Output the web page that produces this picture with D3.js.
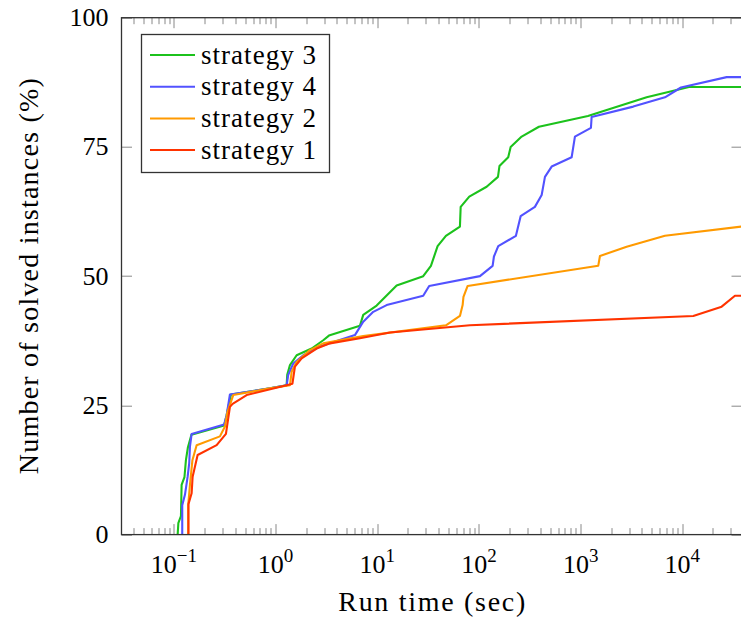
<!DOCTYPE html>
<html>
<head>
<meta charset="utf-8">
<script src="https://cdn.jsdelivr.net/npm/d3@7"></script>
<style>
  body { margin: 0; background: #fff; }
  svg { display: block; }
</style>
</head>
<body>
<div class="chart"></div>
<script>
// run time (sec) / solved instances (%)
var strategy3 = [[0.1088,0],[0.1105,2.2],[0.1172,3.6],[0.1190,9.6],[0.1269,11.1],[0.1312,14.4],
  [0.1373,16.9],[0.1486,19.3],[0.3117,21.1],[0.3298,23.1],[0.3636,27.1],[0.8795,28.3],[1.284,28.9],
  [1.301,30.9],[1.384,32.8],[1.61,34.7],[2.262,36.0],[2.942,37.6],[3.346,38.5],[6.751,40.4],
  [7.275,42.5],[9.856,44.3],[15.5,48.2],[28.3,50.0],[33.7,52.0],[39.2,55.8],[47.3,57.8],[65.0,59.6],
  [66.1,63.4],[80.3,65.4],[119,67.3],[153.8,69.2],[159.1,71.3],[194.1,73.0],[205,75.0],[263,77.0],
  [389,78.9],[1180,81.0],[4460,84.6],[11630,86.6],[38650,86.6]];

var strategy4 = [[0.1207,0],[0.1207,5.7],[0.1283,7.7],[0.1364,11.2],[0.1414,13.85],[0.1437,17.0],
  [0.1493,19.46],[0.3117,21.3],[0.3298,23.1],[0.3554,27.1],[0.8795,28.3],[1.284,28.9],[1.331,30.9],
  [1.491,33.1],[1.87,34.7],[2.729,36.4],[6.03,38.6],[7.275,41.2],[9.13,43.1],[12.36,44.4],[28.3,46.2],
  [32.4,48.1],[102.3,50.0],[136.3,52.0],[140.4,53.8],[154.8,55.8],[231,57.8],[257,61.6],[355,63.4],
  [413.8,65.7],[445.8,69.2],[518.8,71.2],[816,73.0],[879,77.0],[1263,78.7],[1283,80.8],[3293,82.8],
  [6750,84.6],[9700,86.5],[27300,88.5],[38650,88.5]];

var strategy2 = [[0.1382,0],[0.1382,5.7],[0.1437,9.6],[0.152,14.4],[0.1672,17.3],[0.2834,19.0],
  [0.3175,20.9],[0.3359,23.7],[0.3831,27.0],[0.8795,28.3],[1.384,28.9],[1.438,31.5],[1.61,33.4],
  [2.176,35.7],[2.942,37.0],[7.275,38.4],[47.3,40.5],[65.0,42.3],[69.1,44.4],[70.4,46.0],[77.4,48.1],
  [1490,52.0],[1549,53.9],[2836,55.7],[6750,57.8],[38650,59.6]];

var strategy1 = [[0.1389,0],[0.1389,5.9],[0.1493,8.0],[0.1527,11.2],[0.171,15.4],[0.263,17.3],
  [0.3247,19.5],[0.3554,24.7],[0.3777,25.3],[0.5189,27.0],[1.284,28.9],[1.464,29.2],[1.549,32.5],
  [1.803,34.1],[2.533,36.0],[3.423,37.0],[6.751,38.0],[13.32,39.1],[81.5,40.5],[12820,42.3],
  [24380,44.1],[32950,46.2],[38650,46.2]];

var seriesNames = ["strategy 3", "strategy 4", "strategy 2", "strategy 1"];
var seriesColors = ["#1cc21c", "#5252ff", "#ff9a00", "#ff3300"];
var seriesData = [strategy3, strategy4, strategy2, strategy1];

var yTicks = [0, 25, 50, 75, 100];
var xDecades = [-1, 0, 1, 2, 3, 4];

var serif = "Liberation Serif";

var margin = {top: 17.7, right: -1, bottom: 86.4, left: 121.5},
    W = 741, H = 621,
    width = W - margin.left - margin.right,
    height = H - margin.top - margin.bottom;

var svg = d3.select(".chart").append("svg")
    .attr("width", W)
    .attr("height", H);

var x = d3.scaleLog()
    .domain([0.0305, 38650])
    .range([0, width]);

var y = d3.scaleLinear()
    .domain([0, 100])
    .range([height, 0]);

var g = svg.append("g")
    .attr("transform", "translate(" + margin.left + "," + margin.top + ")");

g.append("clipPath").attr("id", "clip")
  .append("rect").attr("width", width).attr("height", height);

// minor + major ticks on log axis
var logTicks = [];
for (var k = -2; k <= 4; k++) {
  for (var m = 1; m <= 9; m++) {
    var v = m * Math.pow(10, k);
    if (v > x.domain()[0] && v < x.domain()[1]) logTicks.push({v: v, major: m === 1});
  }
}

var ticks = g.append("g").attr("stroke", "#888").attr("stroke-width", 1);
logTicks.forEach(function(t) {
  var len = t.major ? 10.5 : 6.5;
  var px = Math.round(x(t.v)) + 0.5;
  ticks.append("line").attr("x1", px).attr("x2", px).attr("y1", height).attr("y2", height - len);
  ticks.append("line").attr("x1", px).attr("x2", px).attr("y1", 0).attr("y2", len);
});
yTicks.forEach(function(d) {
  var py = Math.round(y(d)) + 0.5;
  ticks.append("line").attr("x1", 0).attr("x2", 10.5).attr("y1", py).attr("y2", py);
  ticks.append("line").attr("x1", width).attr("x2", width - 10.5).attr("y1", py).attr("y2", py);
});

// curves
var line = d3.line()
    .x(function(d) { return x(d[0]); })
    .y(function(d) { return y(d[1]); });

g.append("g").attr("clip-path", "url(#clip)")
  .selectAll("path")
  .data(seriesData)
  .enter().append("path")
    .attr("d", line)
    .attr("fill", "none")
    .attr("stroke", function(d, i) { return seriesColors[i]; })
    .attr("stroke-width", 2.1)
    .attr("stroke-linejoin", "round");

// frame
g.append("rect")
    .attr("width", width).attr("height", height)
    .attr("fill", "none").attr("stroke", "#333").attr("stroke-width", 1.3);

// tick labels
g.selectAll(".ylab")
  .data(yTicks)
  .enter().append("text")
    .attr("x", -13)
    .attr("y", function(d) { return y(d) + 8.5; })
    .attr("text-anchor", "end")
    .attr("font-family", serif)
    .attr("font-size", 26)
    .text(function(d) { return d; });

var xl = g.selectAll(".xlab")
  .data(xDecades)
  .enter().append("text")
    .attr("x", function(d) { return x(Math.pow(10, d)); })
    .attr("y", height + 38)
    .attr("text-anchor", "middle")
    .attr("font-family", serif)
    .attr("font-size", 26);
xl.append("tspan").text("10");
xl.append("tspan")
    .attr("dy", -11)
    .attr("font-size", 19)
    .text(function(d) { return d < 0 ? "\u2212" + (-d) : d; });

// axis titles
svg.append("text")
    .attr("x", margin.left + width / 2)
    .attr("y", 611)
    .attr("text-anchor", "middle")
    .attr("font-family", serif)
    .attr("font-size", 28)
    .attr("textLength", 187)
    .attr("lengthAdjust", "spacing")
    .text("Run time (sec)");

svg.append("text")
    .attr("transform", "translate(38," + (margin.top + height / 2) + ") rotate(-90)")
    .attr("text-anchor", "middle")
    .attr("font-family", serif)
    .attr("font-size", 28)
    .attr("textLength", 396)
    .attr("lengthAdjust", "spacing")
    .text("Number of solved instances (%)");

// legend
var legend = svg.append("g").attr("transform", "translate(141,34)");
legend.append("rect")
    .attr("x", 0.5).attr("y", 0.5)
    .attr("width", 188).attr("height", 138)
    .attr("fill", "#fff").attr("stroke", "#333").attr("stroke-width", 1.3);

var item = legend.selectAll(".item")
  .data(seriesNames)
  .enter().append("g")
    .attr("transform", function(d, i) { return "translate(0," + (21 + i * 31.7) + ")"; });
item.append("line")
    .attr("x1", 9).attr("x2", 54)
    .attr("stroke", function(d, i) { return seriesColors[i]; })
    .attr("stroke-width", 2);
item.append("text")
    .attr("x", 60)
    .attr("y", 8.5)
    .attr("font-family", serif)
    .attr("font-size", 27)
    .attr("textLength", 115)
    .attr("lengthAdjust", "spacing")
    .text(function(d) { return d; });
</script>
</body>
</html>
